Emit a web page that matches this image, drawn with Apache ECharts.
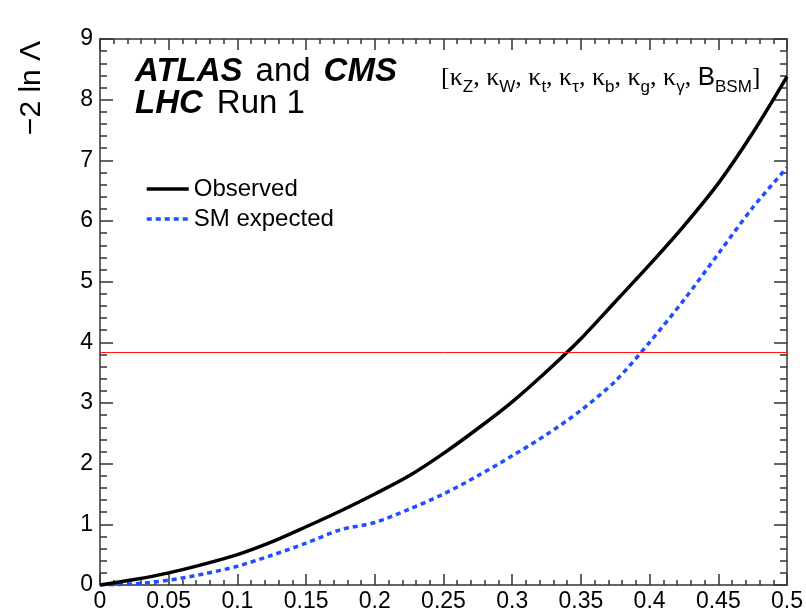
<!DOCTYPE html>
<html>
<head>
<meta charset="utf-8">
<script src="https://cdn.jsdelivr.net/npm/echarts@6/dist/echarts.min.js"></script>
<style>
  html, body { margin: 0; padding: 0; background: #fff; }
  #chart { width: 806px; height: 613px; }
</style>
</head>
<body>
<div id="chart"></div>
<script>
// Scan points of the BSM branching fraction, B_BSM
const bsm = [0, 0.025, 0.05, 0.075, 0.1, 0.125, 0.15, 0.175, 0.2, 0.225, 0.25,
             0.275, 0.3, 0.325, 0.35, 0.375, 0.4, 0.425, 0.45, 0.475, 0.5];
// -2 ln Lambda, observed
const observed = [0, 0.09, 0.20, 0.34, 0.50, 0.71, 0.96, 1.22, 1.50, 1.80, 2.17,
                  2.58, 3.02, 3.52, 4.06, 4.67, 5.28, 5.92, 6.62, 7.45, 8.38];
// -2 ln Lambda, SM expected
const expected = [0, 0.02, 0.08, 0.18, 0.31, 0.49, 0.69, 0.91, 1.03, 1.25, 1.50,
                  1.80, 2.13, 2.48, 2.88, 3.36, 4.00, 4.70, 5.46, 6.22, 6.88];
// 95% CL threshold
const threshold = [3.84];

const xRange = { min: 0, max: 0.5, step: 0.05 };
const yRange = { min: 0, max: 9, step: 1 };

const SANS = '"Liberation Sans", Arial, Helvetica, sans-serif';
const SERIF = '"Liberation Serif", "Times New Roman", serif';
const AXIS_COLOR = '#333';

function pairs(ys) { return bsm.map((x, i) => [x, ys[i]]); }

function makeAxis(isX, pos, showLabels) {
  const r = isX ? xRange : yRange;
  return {
    type: 'value',
    position: pos,
    min: r.min, max: r.max, interval: r.step,
    axisLine: { show: true, onZero: false, lineStyle: { color: AXIS_COLOR, width: 1.5 } },
    axisTick: { show: true, inside: true, length: isX ? 11 : 13, lineStyle: { color: AXIS_COLOR, width: 1.5 } },
    minorTick: { show: true, splitNumber: 5, length: isX ? 5 : 7, lineStyle: { color: AXIS_COLOR, width: 1.5 } },
    splitLine: { show: false },
    minorSplitLine: { show: false },
    axisLabel: {
      show: showLabels,
      fontSize: 23,
      fontFamily: SANS,
      color: '#000',
      margin: isX ? 5 : 7
    }
  };
}

const chart = echarts.init(document.getElementById('chart'), null, { renderer: 'canvas' });

chart.setOption({
  animation: false,
  backgroundColor: '#fff',
  grid: { left: 100, right: 6, top: 39, bottom: 22 },
  xAxis: [makeAxis(true, 'bottom', true), makeAxis(true, 'top', false)],
  yAxis: [makeAxis(false, 'left', true), makeAxis(false, 'right', false)],
  legend: {
    orient: 'vertical',
    left: 140,
    top: 172,
    itemWidth: 42,
    itemHeight: 14,
    itemGap: 6,
    itemStyle: { opacity: 0 },
    lineStyle: { width: 3.5 },
    textStyle: { fontSize: 24, fontFamily: SANS, color: '#000' },
    data: ['Observed', 'SM expected']
  },
  series: [
    {
      name: 'Observed',
      type: 'line',
      xAxisIndex: 0, yAxisIndex: 0,
      data: pairs(observed),
      smooth: 0.3,
      symbol: 'none',
      lineStyle: { color: '#000', width: 3.5 },
      itemStyle: { color: '#000' },
      z: 4,
      markLine: {
        silent: true,
        symbol: 'none',
        label: { show: false },
        lineStyle: { color: '#ff1a1a', width: 1, type: 'solid' },
        data: threshold.map(v => ({ yAxis: v }))
      }
    },
    {
      name: 'SM expected',
      type: 'line',
      xAxisIndex: 0, yAxisIndex: 0,
      data: pairs(expected),
      smooth: 0.3,
      symbol: 'none',
      lineStyle: { color: '#1f4fff', width: 3.5, type: [5, 4] },
      itemStyle: { color: '#1f4fff' },
      z: 3
    }
  ],
  graphic: [
    {
      type: 'text', x: 32, y: 88, rotation: Math.PI / 2,
      style: {
        text: '\u22122 ln \u039B',
        fontSize: 30, fontFamily: SANS, fill: '#000',
        align: 'center', verticalAlign: 'middle'
      }
    },
    {
      type: 'text', x: 135, y: 72,
      style: {
        text: '{b|ATLAS}{r|and}{b|CMS}',
        verticalAlign: 'middle',
        rich: {
          b: { fontSize: 33, fontFamily: SANS, fontWeight: 'bold', fontStyle: 'italic', fill: '#000' },
          r: { fontSize: 33, fontFamily: SANS, fill: '#000', padding: [0, 13, 0, 13] }
        }
      }
    },
    {
      type: 'text', x: 135, y: 104,
      style: {
        text: '{b|LHC}{r|Run 1}',
        verticalAlign: 'middle',
        rich: {
          b: { fontSize: 33, fontFamily: SANS, fontWeight: 'bold', fontStyle: 'italic', fill: '#000' },
          r: { fontSize: 33, fontFamily: SANS, fill: '#000', padding: [0, 0, 0, 14] }
        }
      }
    },
    {
      type: 'text', x: 441, y: 78,
      style: {
        text: '{m|[\u03BA}{s|Z}{m|, \u03BA}{s|W}{m|, \u03BA}{s|t}{m|, \u03BA}{s|\u03C4}{m|, \u03BA}{s|b}{m|, \u03BA}{s|g}{m|, \u03BA}{s|\u03B3}{m|, }{B|B}{s|BSM}{m|]}',
        verticalAlign: 'middle',
        rich: {
          m: { fontSize: 26, fontFamily: SERIF, fill: '#000', lineHeight: 36, verticalAlign: 'middle' },
          B: { fontSize: 26, fontFamily: SANS, fill: '#000', lineHeight: 36, verticalAlign: 'middle' },
          s: { fontSize: 17, fontFamily: SANS, fill: '#000', lineHeight: 36, verticalAlign: 'bottom' }
        }
      }
    }
  ]
});
</script>
</body>
</html>
